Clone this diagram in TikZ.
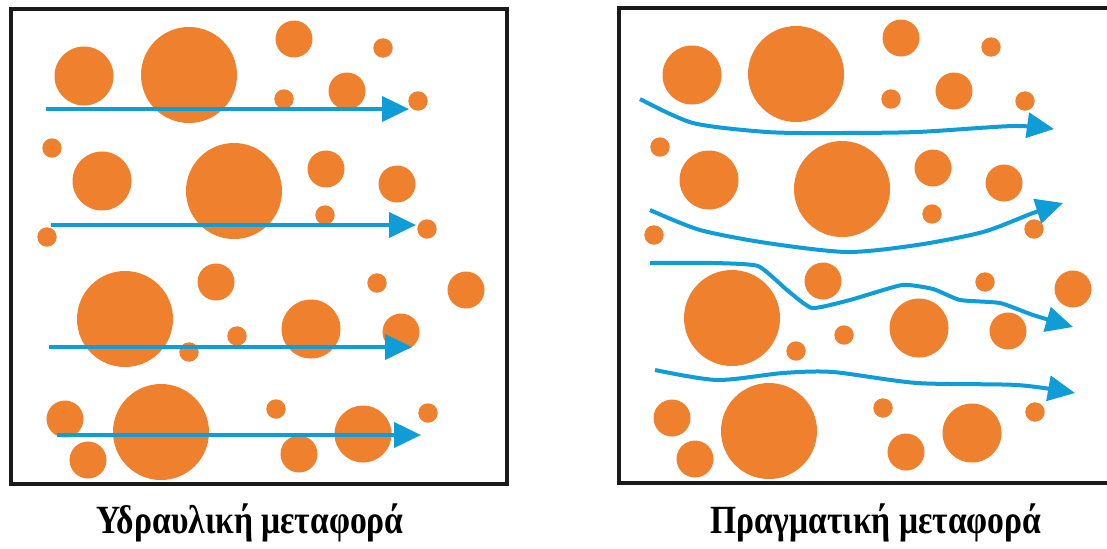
\documentclass[tikz,border=0pt]{standalone}
\usepackage{fontspec}
\setmainfont{Liberation Serif}
\usetikzlibrary{arrows.meta}
\definecolor{grain}{RGB}{238,128,46}
\definecolor{flow}{RGB}{16,156,214}
\definecolor{frame}{RGB}{26,26,26}
\newcommand{\narrowtext}[1]{\scalebox{0.84}[1]{#1}}
\begin{document}
\begin{tikzpicture}[x=0.5pt,y=-0.5pt,
  grainfill/.style={fill=grain},
  boxframe/.style={draw=frame,line width=1.6pt},
  flowline/.style={draw=flow,line width=2pt,-{Triangle[length=13.5pt,width=12.5pt]}},
  caption/.style={font=\bfseries\fontsize{20}{22}\selectfont,anchor=base,inner sep=0pt}]
\fill[white] (0,0) rectangle (1107,548);
\useasboundingbox (0,0) rectangle (1107,548);
% left panel grains
\foreach \cx/\cy/\r in {84/76/29.5,189/75/48,294/39/18.5,383/48/9.7,284/99/9.7,347/91/18.5,418/101/9.7,
  52/148/9.7,102/181/29.5,234/191/48,326/169/18.5,397/184/18.5,325/215/9.7,47/237/9.7,427/229/9.7,
  125/319/48,216/282/18.5,377/283/9.7,466/290/18.5,237/336/9.7,189/352/9.7,311/329/29.5,401/332/18.5,
  65/419/18.5,88/460/18.5,161/432/48,276/409/9.7,299/454/18.5,363/434/28.5,428/413/9.7}
  \fill[grainfill] (\cx,\cy) circle[radius=\r];
% right panel grains
\foreach \cx/\cy/\r in {692/75/29.5,796/74/48,901/38/18.5,991/47/9.7,891/99/9.7,954/91/18.5,1025/101/9.7,
  660/147/9.7,709/180/29.5,842/189/48,933/168/18.5,1004/183/18.5,932/214/9.7,654/235/9.7,1034/229/9.7,
  732/318/48,823/281/18.5,985/282/9.7,1073/289/18.5,844/335/9.7,796/351/9.7,919/328/29.5,1008/331/18.5,
  672/418/18.5,695/459/18.5,769/431/48,883/408/9.7,906/452/18.5,972/433/29.5,1035/412/9.7}
  \fill[grainfill] (\cx,\cy) circle[radius=\r];
% left panel straight flow lines
\coordinate (a1s) at (46,109);  \coordinate (a1e) at (409,109);
\coordinate (a2s) at (51,225);  \coordinate (a2e) at (416,225);
\coordinate (a3s) at (49,347);  \coordinate (a3e) at (412,347);
\coordinate (a4s) at (57,435);  \coordinate (a4e) at (421,435);
\draw[flowline] (a1s) -- (a1e);
\draw[flowline] (a2s) -- (a2e);
\draw[flowline] (a3s) -- (a3e);
\draw[flowline] (a4s) -- (a4e);
% right panel tortuous flow lines
\draw[flowline] plot[smooth,tension=0.45] coordinates {(640,99) (693,123) (767,132) (833,133) (917,132) (1013,126) (1054,129)};
\draw[flowline] plot[smooth,tension=0.45] coordinates {(650,210) (700,230) (767,243) (847,252) (917,245) (983,232) (1033,213) (1063,203)};
\draw[flowline] plot[smooth,tension=0.3] coordinates {(650,263) (713,263) (758,266) (787,290) (812,308) (850,300) (902,285) (933,289) (960,300) (1000,303) (1033,315) (1073,327)};
\draw[flowline] plot[smooth,tension=0.45] coordinates {(655,370) (717,380) (783,373) (833,372) (917,383) (1017,385) (1075,393)};
% frames
\draw[boxframe] (11,9) rectangle (507,484);
\draw[boxframe] (619,8) rectangle (1114,483);
% captions
\node[caption] (capL) at (250,533) {\narrowtext{Υδραυλική μεταφορά}};
\node[caption] (capR) at (876,533) {\narrowtext{Πραγματική μεταφορά}};
\end{tikzpicture}
\end{document}
